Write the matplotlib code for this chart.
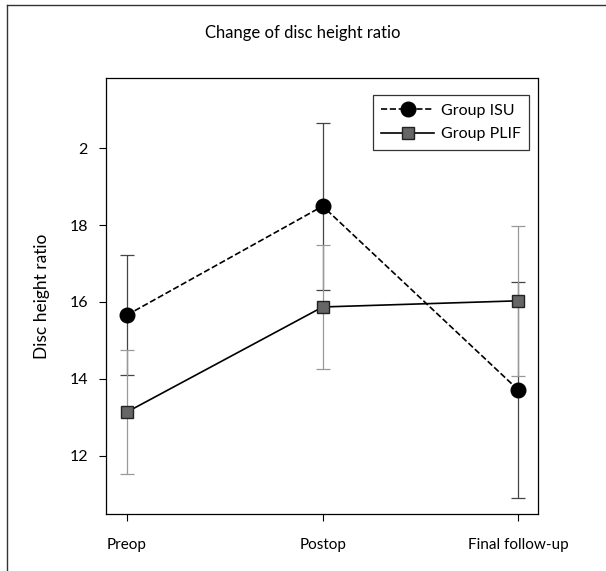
import matplotlib
matplotlib.use('Agg')
import matplotlib.pyplot as plt
from matplotlib.lines import Line2D

plt.rcParams['font.family'] = ['Lato', 'DejaVu Sans']

categories = ['Preop', 'Postop', 'Final follow-up']
isu_mean = [15.66, 18.49, 13.71]
isu_err = [1.55, 2.17, 2.80]
plif_mean = [13.14, 15.87, 16.03]
plif_err = [1.61, 1.62, 1.95]
ytick_values = [12, 14, 16, 18, 20]
ytick_labels = ['12', '14', '16', '18', '2']

fig = plt.figure(figsize=(6.06, 5.71), dpi=100)
ax = fig.add_axes([106 / 606, (571 - 514) / 571, 432 / 606, 436 / 571])

x = list(range(len(categories)))

ax.errorbar(x, isu_mean, yerr=isu_err, fmt='none', ecolor='#444444',
            elinewidth=0.9, capsize=5, capthick=0.9, zorder=1)
ax.errorbar(x, plif_mean, yerr=plif_err, fmt='none', ecolor='#999999',
            elinewidth=0.9, capsize=5, capthick=0.9, zorder=1)

ax.plot(x, isu_mean, linestyle='--', color='black', linewidth=1.2,
        marker='o', markersize=10.5, markerfacecolor='black',
        markeredgecolor='black', label='Group ISU', zorder=3)
ax.plot(x, plif_mean, linestyle='-', color='black', linewidth=1.2,
        marker='s', markersize=9, markerfacecolor='#666666',
        markeredgecolor='#222222', label='Group PLIF', zorder=3)

ax.set_xlim(-0.107, 2.1)
ax.set_ylim(10.49, 21.82)
ax.set_xticks(x)
ax.set_xticklabels(categories, fontsize=11)
ax.set_yticks(ytick_values)
ax.set_yticklabels(ytick_labels, fontsize=11.5)
ax.tick_params(direction='out', length=5, width=0.8, pad=8)
ax.tick_params(axis='x', pad=12)
for s in ax.spines.values():
    s.set_linewidth(0.9)

ax.set_ylabel('Disc height ratio', fontsize=12.5, labelpad=14)
fig.text(0.5, 1 - 33 / 571, 'Change of disc height ratio', ha='center',
         va='center', fontsize=12)

leg = ax.legend(loc='upper right', bbox_to_anchor=(0.98, 0.962),
                fontsize=11.5, handlelength=3.3, handletextpad=0.4,
                frameon=True, fancybox=False, edgecolor='black',
                borderpad=0.55, labelspacing=0.6, borderaxespad=0)
leg.get_frame().set_linewidth(0.9)

# outer frame of the figure
fig.add_artist(Line2D([7 / 606, 7 / 606], [0, 1 - 5 / 571], color='#333333', linewidth=1))
fig.add_artist(Line2D([7 / 606, 1], [1 - 5 / 571, 1 - 5 / 571], color='#333333', linewidth=1))

fig.savefig('out.png', dpi=100)
